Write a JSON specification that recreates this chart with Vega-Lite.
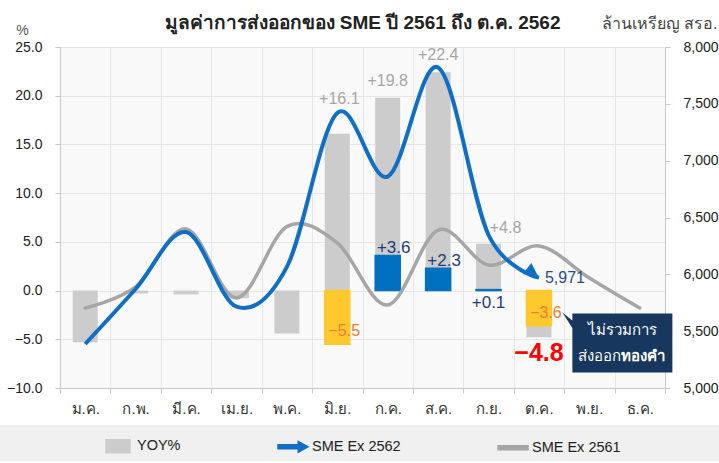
{
  "$schema": "https://vega.github.io/schema/vega-lite/v6.json",
  "width": 605,
  "height": 341,
  "autosize": {"type": "none"},
  "padding": {"left": 60, "top": 47, "right": 54, "bottom": 75},
  "background": "white",
  "config": {
    "view": {"stroke": null, "fill": "#f9f9f9"},
    "font": "Liberation Sans",
    "axis": {"labelFont": "Liberation Sans", "titleFont": "Liberation Sans"},
    "legend": {"labelFont": "Liberation Sans"}
  },
  "title": {
    "text": "มูลค่าการส่งออกของ SME ปี 2561 ถึง ต.ค. 2562",
    "fontSize": 19,
    "fontWeight": "bold",
    "color": "#222222",
    "anchor": "middle",
    "frame": "group",
    "offset": 0,
    "baseline": "middle",
    "dy": 27
  },
  "datasets": {
    "yoy": [
      {"month": "ม.ค.", "series": "YOY%", "v": -5.3},
      {"month": "ก.พ.", "series": "YOY%", "v": -0.3},
      {"month": "มี.ค.", "series": "YOY%", "v": -0.4},
      {"month": "เม.ย.", "series": "YOY%", "v": -0.8},
      {"month": "พ.ค.", "series": "YOY%", "v": -4.4},
      {"month": "มิ.ย.", "series": "YOY%", "v": 16.1},
      {"month": "ก.ค.", "series": "YOY%", "v": 19.8},
      {"month": "ส.ค.", "series": "YOY%", "v": 22.4},
      {"month": "ก.ย.", "series": "YOY%", "v": 4.8},
      {"month": "ต.ค.", "series": "YOY%", "v": -4.8}
    ],
    "ex": [
      {"month": "มิ.ย.", "v": -5.5},
      {"month": "ก.ค.", "v": 3.6},
      {"month": "ส.ค.", "v": 2.3},
      {"month": "ก.ย.", "v": 0.1},
      {"month": "ต.ค.", "v": -3.6}
    ],
    "lines": [
      {"month": "ม.ค.", "series": "SME Ex 2561", "val": 5704},
      {"month": "ก.พ.", "series": "SME Ex 2561", "val": 5889},
      {"month": "มี.ค.", "series": "SME Ex 2561", "val": 6400},
      {"month": "เม.ย.", "series": "SME Ex 2561", "val": 5792},
      {"month": "พ.ค.", "series": "SME Ex 2561", "val": 6420},
      {"month": "มิ.ย.", "series": "SME Ex 2561", "val": 6276},
      {"month": "ก.ค.", "series": "SME Ex 2561", "val": 5730},
      {"month": "ส.ค.", "series": "SME Ex 2561", "val": 6390},
      {"month": "ก.ย.", "series": "SME Ex 2561", "val": 6082},
      {"month": "ต.ค.", "series": "SME Ex 2561", "val": 6250},
      {"month": "พ.ย.", "series": "SME Ex 2561", "val": 5968},
      {"month": "ธ.ค.", "series": "SME Ex 2561", "val": 5704},
      {"month": "ม.ค.", "series": "SME Ex 2562", "val": 5387},
      {"month": "ก.พ.", "series": "SME Ex 2562", "val": 5871},
      {"month": "มี.ค.", "series": "SME Ex 2562", "val": 6372},
      {"month": "เม.ย.", "series": "SME Ex 2562", "val": 5715},
      {"month": "พ.ค.", "series": "SME Ex 2562", "val": 6065},
      {"month": "มิ.ย.", "series": "SME Ex 2562", "val": 7420},
      {"month": "ก.ค.", "series": "SME Ex 2562", "val": 6860},
      {"month": "ส.ค.", "series": "SME Ex 2562", "val": 7820},
      {"month": "ก.ย.", "series": "SME Ex 2562", "val": 6346},
      {"month": "ต.ค.", "series": "SME Ex 2562", "val": 5971}
    ],
    "note": [
      {"month": "พ.ย.", "line1": "ไม่รวมการ", "line2a": "ส่งออก", "line2b": "ทองคำ"}
    ]
  },
  "encoding": {
    "x": {
      "field": "month",
      "type": "ordinal",
      "sort": ["ม.ค.", "ก.พ.", "มี.ค.", "เม.ย.", "พ.ค.", "มิ.ย.", "ก.ค.", "ส.ค.", "ก.ย.", "ต.ค.", "พ.ย.", "ธ.ค."],
      "scale": {
        "domain": ["ม.ค.", "ก.พ.", "มี.ค.", "เม.ย.", "พ.ค.", "มิ.ย.", "ก.ค.", "ส.ค.", "ก.ย.", "ต.ค.", "พ.ย.", "ธ.ค."],
        "paddingInner": 0,
        "paddingOuter": 0
      },
      "axis": {
        "title": null,
        "labelAngle": 0,
        "labelFontSize": 15,
        "labelColor": "#333333",
        "labelPadding": 8,
        "tickBand": "extent",
        "tickSize": 5,
        "tickColor": "#c8c8c8",
        "domainColor": "#c8c8c8",
        "grid": true,
        "gridColor": "#e6e6e6"
      }
    }
  },
  "layer": [
    {
      "layer": [
        {
          "data": {"name": "yoy"},
          "mark": {"type": "bar", "size": 25},
          "encoding": {
            "y": {
              "field": "v",
              "type": "quantitative",
              "scale": {"domain": [-10, 25], "nice": false},
              "axis": {
                "orient": "left",
                "values": [-10, -5, 0, 5, 10, 15, 20, 25],
                "format": ".1f",
                "title": "%",
                "titleAngle": 0,
                "titleX": -38,
                "titleY": -17,
                "titleAlign": "center",
                "titleBaseline": "middle",
                "titleFontWeight": "normal",
                "titleFontSize": 14,
                "titleColor": "#555555",
                "labelFontSize": 14,
                "labelColor": "#222222",
                "labelPadding": 13,
                "tickSize": 5,
                "tickColor": "#c8c8c8",
                "domainColor": "#c8c8c8",
                "grid": true,
                "gridColor": "#e6e6e6"
              }
            },
            "color": {
              "field": "series",
              "type": "nominal",
              "scale": {
                "domain": ["YOY%", "SME Ex 2562", "SME Ex 2561", " "],
                "range": ["#cccccc", "#0f6fc6", "#a6a6a6", "#f0f0f0"]
              },
              "legend": {
                "orient": "none",
                "legendX": -60,
                "legendY": 378,
                "direction": "horizontal",
                "title": " ",
                "titleOrient": "left",
                "titleFontSize": 1,
                "titlePadding": 97,
                "padding": 5,
                "fillColor": "#f0f0f0",
                "columnPadding": 94,
                "symbolSize": 900,
                "labelOffset": 3,
                "labelFontSize": 14.5,
                "labelColor": "#222222",
                "labelLimit": 400,
                "encode": {
                  "symbols": {
                    "update": {
                      "shape": {"signal": "datum.value == 'YOY%' ? 'M-0.8,-0.43L0.8,-0.43L0.8,0.43L-0.8,0.43Z' : (datum.value == 'SME Ex 2562' ? 'M-1,-0.13L0.35,-0.13L0.35,-0.36L1,0L0.35,0.36L0.35,0.13L-1,0.13Z' : (datum.value == 'SME Ex 2561' ? 'M-1,-0.13L1,-0.13L1,0.13L-1,0.13Z' : 'M0,0L0.01,0Z'))"},
                      "fill": {"signal": "scale('color', datum.value)"},
                      "stroke": {"value": "transparent"},
                      "opacity": {"value": 1}
                    }
                  }
                }
              }
            }
          }
        },
        {
          "data": {"name": "ex"},
          "mark": {"type": "bar", "size": 25, "strokeWidth": 1.5},
          "encoding": {
            "y": {"field": "v", "type": "quantitative"},
            "color": {"condition": {"test": "datum.v < 0", "value": "#ffc82e"}, "value": "#0070c0"},
            "stroke": {"condition": {"test": "datum.v < 0", "value": "#ffc82e"}, "value": "#0070c0"}
          }
        }
      ]
    },
    {
      "layer": [
        {
          "data": {"name": "lines"},
          "transform": [{"filter": "datum.series == 'SME Ex 2561'"}],
          "mark": {"type": "line", "interpolate": "cardinal", "strokeWidth": 3.5, "strokeCap": "round"},
          "encoding": {
            "y": {
              "field": "val",
              "type": "quantitative",
              "scale": {"domain": [5000, 8000], "nice": false},
              "axis": {
                "orient": "right",
                "values": [5000, 5500, 6000, 6500, 7000, 7500, 8000],
                "format": ",d",
                "grid": false,
                "title": "ล้านเหรียญ สรอ.",
                "titleAngle": 0,
                "titleX": 52,
                "titleY": -24,
                "titleAlign": "right",
                "titleBaseline": "middle",
                "titleFontSize": 16,
                "titleFontWeight": "normal",
                "titleColor": "#444444",
                "labelFontSize": 14,
                "labelColor": "#222222",
                "labelPadding": 13,
                "tickSize": 5,
                "tickColor": "#c8c8c8",
                "domainColor": "#c8c8c8"
              }
            },
            "color": {
              "field": "series",
              "type": "nominal",
              "scale": {
                "domain": ["YOY%", "SME Ex 2562", "SME Ex 2561", " "],
                "range": ["#cccccc", "#0f6fc6", "#a6a6a6", "#f0f0f0"]
              }
            }
          }
        },
        {
          "data": {"name": "lines"},
          "transform": [{"filter": "datum.series == 'SME Ex 2562'"}],
          "mark": {"type": "line", "interpolate": "cardinal", "strokeWidth": 4, "strokeCap": "butt"},
          "encoding": {
            "y": {"field": "val", "type": "quantitative"},
            "color": {"field": "series", "type": "nominal"}
          }
        },
        {
          "data": {"name": "lines"},
          "transform": [{"filter": "datum.series == 'SME Ex 2562' && datum.month == 'ต.ค.'"}],
          "mark": {"type": "point", "shape": "M0,0L-1,-0.45L-1,0.45Z", "filled": true, "size": 900, "angle": 38, "color": "#0f6fc6", "opacity": 1},
          "encoding": {
            "y": {"field": "val", "type": "quantitative"}
          }
        },
        {
          "data": {"name": "lines"},
          "transform": [{"filter": "datum.series == 'SME Ex 2562' && datum.month == 'ต.ค.'"}],
          "mark": {"type": "text", "align": "left", "baseline": "middle", "dx": 6, "fontSize": 16, "color": "#2f4b8c"},
          "encoding": {
            "y": {"field": "val", "type": "quantitative"},
            "text": {"field": "val", "type": "quantitative", "format": ","}
          }
        }
      ]
    },
    {
      "layer": [
        {
          "data": {"name": "yoy"},
          "transform": [{"filter": "datum.month == 'มิ.ย.'"}],
          "mark": {"type": "text", "baseline": "middle", "dy": -35, "dx": 2, "fontSize": 16, "color": "#a6a6a6"},
          "encoding": {
            "y": {"field": "v", "type": "quantitative", "scale": {"domain": [-10, 25], "nice": false}, "axis": null},
            "text": {"field": "v", "type": "quantitative", "format": "+.1f"}
          }
        },
        {
          "data": {"name": "yoy"},
          "transform": [{"filter": "datum.month == 'ก.ค.' || datum.month == 'ส.ค.'"}],
          "mark": {"type": "text", "baseline": "middle", "dy": -17, "fontSize": 16, "color": "#a6a6a6"},
          "encoding": {
            "y": {"field": "v", "type": "quantitative"},
            "text": {"field": "v", "type": "quantitative", "format": "+.1f"}
          }
        },
        {
          "data": {"name": "yoy"},
          "transform": [{"filter": "datum.month == 'ก.ย.'"}],
          "mark": {"type": "text", "baseline": "middle", "dy": -16, "dx": 17, "fontSize": 16, "color": "#a6a6a6"},
          "encoding": {
            "y": {"field": "v", "type": "quantitative"},
            "text": {"field": "v", "type": "quantitative", "format": "+.1f"}
          }
        },
        {
          "data": {"name": "ex"},
          "transform": [{"filter": "datum.v > 1"}],
          "mark": {"type": "text", "baseline": "bottom", "dy": 2, "dx": 6, "fontSize": 17, "color": "#1f3c78"},
          "encoding": {
            "y": {"field": "v", "type": "quantitative"},
            "text": {"field": "v", "type": "quantitative", "format": "+.1f"}
          }
        },
        {
          "data": {"name": "ex"},
          "transform": [{"filter": "datum.v > 0 && datum.v < 1"}],
          "mark": {"type": "text", "baseline": "middle", "dy": 13, "fontSize": 17, "color": "#1f3c78"},
          "encoding": {
            "y": {"field": "v", "type": "quantitative"},
            "text": {"field": "v", "type": "quantitative", "format": "+.1f"}
          }
        },
        {
          "data": {"name": "ex"},
          "transform": [{"filter": "datum.v < 0"}],
          "mark": {"type": "text", "baseline": "middle", "dy": -13, "dx": 7, "fontSize": 16, "color": "#ed7d31"},
          "encoding": {
            "y": {"field": "v", "type": "quantitative"},
            "text": {"field": "v", "type": "quantitative", "format": ".1f"}
          }
        },
        {
          "data": {"name": "yoy"},
          "transform": [{"filter": "datum.month == 'ต.ค.'"}],
          "mark": {"type": "text", "baseline": "middle", "dy": 16, "fontSize": 25, "fontWeight": "bold", "color": "#ff0000"},
          "encoding": {
            "y": {"field": "v", "type": "quantitative"},
            "text": {"field": "v", "type": "quantitative", "format": ".1f"}
          }
        },
        {
          "data": {"name": "note"},
          "mark": {"type": "point", "shape": "M-1,-0.59L1,-0.59L1,0.59L-1,0.59L-1,-0.3L-1.2,-0.61L-1,-0.45Z", "size": 10000, "filled": true, "opacity": 1, "xOffset": 33, "color": "#17375e"},
          "encoding": {
            "y": {"datum": -5.39, "type": "quantitative"}
          }
        },
        {
          "data": {"name": "note"},
          "mark": {"type": "text", "baseline": "middle", "xOffset": 33, "fontSize": 15, "color": "white"},
          "encoding": {
            "y": {"datum": -4.0, "type": "quantitative"},
            "text": {"field": "line1"}
          }
        },
        {
          "data": {"name": "note"},
          "mark": {"type": "text", "baseline": "middle", "align": "right", "xOffset": 32, "fontSize": 15, "color": "white"},
          "encoding": {
            "y": {"datum": -6.7, "type": "quantitative"},
            "text": {"field": "line2a"}
          }
        },
        {
          "data": {"name": "note"},
          "mark": {"type": "text", "baseline": "middle", "align": "left", "xOffset": 32, "fontSize": 15, "fontWeight": "bold", "color": "white"},
          "encoding": {
            "y": {"datum": -6.7, "type": "quantitative"},
            "text": {"field": "line2b"}
          }
        }
      ]
    }
  ],
  "resolve": {"scale": {"y": "independent"}}
}
